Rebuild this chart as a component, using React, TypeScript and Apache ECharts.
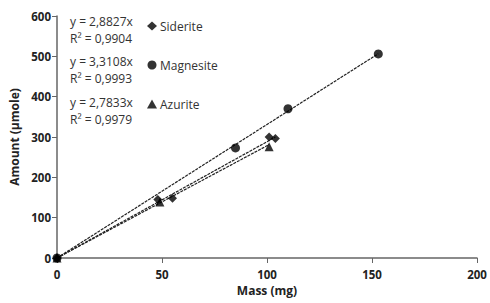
import React, { useEffect, useRef } from "react";
import * as echarts from "echarts";

const seriesNames = ["Siderite", "Magnesite", "Azurite"];
const symbols = ["diamond", "circle", "triangle"];
const sideriteData = [[0, 0], [48, 145], [55, 148], [101, 300], [104, 296]];
const magnesiteData = [[0, 0], [85, 273], [110, 370], [153, 506]];
const azuriteData = [[0, 0], [49, 139], [101, 276]];
const slopes = [2.8827, 3.3108, 2.7833];
const equations = ["y = 2,8827x", "y = 3,3108x", "y = 2,7833x"];
const rSquared = ["R² = 0,9904", "R² = 0,9993", "R² = 0,9979"];
const xTicks = [0, 50, 100, 150, 200];
const yTicks = [0, 100, 200, 300, 400, 500, 600];

const FONT = "Open Sans";

export default function App() {
  const ref = useRef<HTMLDivElement>(null);
  useEffect(() => {
    if (!ref.current) return;
    const chart = echarts.init(ref.current, undefined, { renderer: "svg" });
    const allData = [sideriteData, magnesiteData, azuriteData];
    const scatter = allData.map((d, i) => ({
      name: seriesNames[i],
      type: "scatter",
      data: d,
      symbol: symbols[i],
      symbolSize: 9,
      itemStyle: { color: "#000" },
      z: 3,
    }));
    const trend = allData.map((d, i) => {
      const xmax = Math.max(...d.map((p) => p[0]));
      return {
        name: seriesNames[i] + " trend",
        type: "line",
        data: [[0, 0], [xmax, slopes[i] * xmax]],
        symbol: "none",
        lineStyle: { color: "#222", width: 1.2, type: [3, 1] },
        z: 2,
      };
    });
    const eqCenters = [22, 62, 103];
    const graphics: any[] = [];
    eqCenters.forEach((y, i) => {
      graphics.push({
        type: "text",
        x: 70,
        y: y - 1,
        style: { text: equations[i], font: `12px "${FONT}"`, fill: "#333", verticalAlign: "middle" },
      });
      graphics.push({
        type: "text",
        x: 70,
        y: y + 16,
        style: { text: rSquared[i], font: `12px "${FONT}"`, fill: "#333", verticalAlign: "middle" },
      });
    });
    chart.setOption({
      animation: false,
      grid: { left: 57, right: 13, top: 16, bottom: 45 },
      legend: {
        data: seriesNames.map((n, i) => ({ name: n, icon: symbols[i] })),
        orient: "vertical",
        left: 142,
        top: 15,
        itemWidth: 10,
        itemHeight: 9,
        itemGap: 27,
        textStyle: { fontFamily: FONT, fontSize: 12, color: "#333", padding: [0, 0, 0, -2] },
      },
      xAxis: {
        type: "value",
        min: 0,
        max: 200,
        interval: 50,
        name: "Mass (mg)",
        nameLocation: "middle",
        nameGap: 26,
        nameTextStyle: { fontFamily: FONT, fontWeight: "bold", fontSize: 12, color: "#222" },
        axisLine: { show: true, lineStyle: { color: "#666", width: 1.5 } },
        axisTick: { show: true, length: 5, lineStyle: { color: "#666" } },
        axisLabel: { fontFamily: FONT, fontWeight: "bold", fontSize: 11.5, color: "#222", margin: 10,
          formatter: (v: number) => (xTicks.includes(v) ? String(v) : "") },
        splitLine: { show: false },
      },
      yAxis: {
        type: "value",
        min: 0,
        max: 600,
        interval: 100,
        name: "Amount (µmole)",
        nameLocation: "middle",
        nameGap: 35,
        nameTextStyle: { fontFamily: FONT, fontWeight: "bold", fontSize: 12, color: "#222" },
        axisLine: { show: true, lineStyle: { color: "#666", width: 1.5 } },
        axisTick: { show: true, length: 5, lineStyle: { color: "#666" } },
        axisLabel: { fontFamily: FONT, fontWeight: "bold", fontSize: 11.5, color: "#222", margin: 6,
          formatter: (v: number) => (yTicks.includes(v) ? String(v) : "") },
        splitLine: { show: false },
      },
      graphic: graphics,
      series: [...trend, ...scatter],
    });
    return () => chart.dispose();
  }, []);
  return <div ref={ref} style={{ width: 490, height: 303, position: "absolute", left: 0, top: 0 }} />;
}
